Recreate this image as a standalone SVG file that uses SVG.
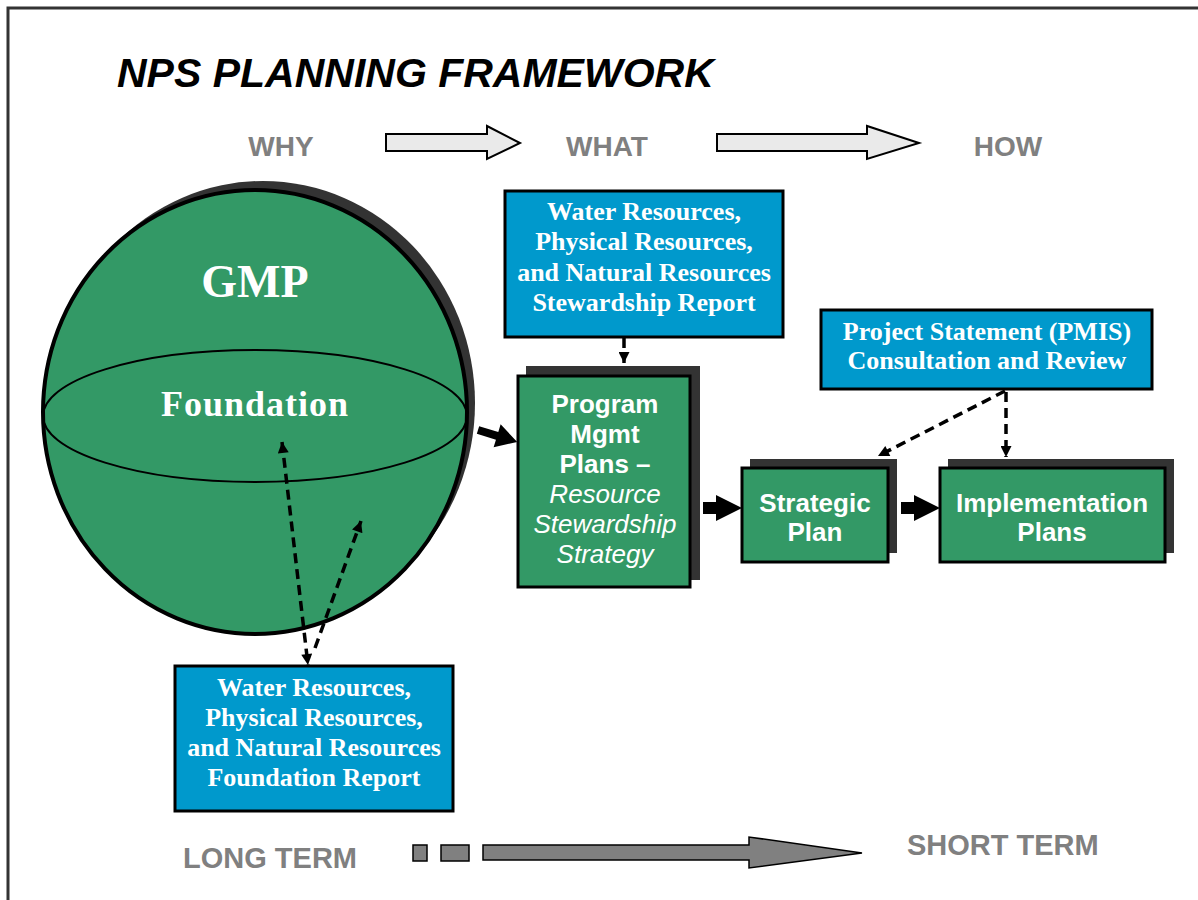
<svg xmlns="http://www.w3.org/2000/svg" width="1198" height="900" viewBox="0 0 1198 900">
<defs>
<style>
.lbl{font-family:"Liberation Sans",Arial,sans-serif;font-weight:bold;fill:#808080;}
.gtx{font-family:"Liberation Sans",Arial,sans-serif;font-weight:bold;fill:#fff;font-size:26px;text-anchor:middle;}
.gi{font-weight:normal;font-style:italic;}
.btx{font-family:"Liberation Serif","Times New Roman",serif;font-weight:bold;fill:#fff;font-size:26px;text-anchor:middle;}
.green{fill:#339966;stroke:#000;stroke-width:3;}
.blue{fill:#0099CC;stroke:#000;stroke-width:3;}
.shadow{fill:#333;}
.dash{fill:none;stroke:#000;stroke-width:3.5;stroke-dasharray:10,6;}
.blk{fill:#000;}
</style>
<marker id="ah" viewBox="0 0 10 10" refX="10" refY="5" markerUnits="userSpaceOnUse" markerWidth="12" markerHeight="11" orient="auto-start-reverse">
<path d="M0,0 L10,5 L0,10 Z" fill="#000"/>
</marker>
</defs>
<rect width="1198" height="900" fill="#fff"/>
<rect x="8" y="8" width="1200" height="900" fill="none" stroke="#333" stroke-width="3"/>

<text x="117" y="87" font-family="Liberation Sans,Arial,sans-serif" font-weight="bold" font-style="italic" font-size="41">NPS PLANNING FRAMEWORK</text>

<g id="headers">
<text class="lbl" x="281" y="156" font-size="28" text-anchor="middle">WHY</text>
<text class="lbl" x="607" y="156" font-size="28" text-anchor="middle">WHAT</text>
<text class="lbl" x="1008" y="156" font-size="28" text-anchor="middle">HOW</text>
<polygon points="386,134 487,134 487,126 520,143 487,159 487,151 386,151" fill="#eaeaea" stroke="#000" stroke-width="2"/>
<polygon points="717,134 867,134 867,126 919,143 867,159 867,151 717,151" fill="#eaeaea" stroke="#000" stroke-width="2"/>
</g>

<g id="gmp">
<ellipse cx="263" cy="403" rx="212" ry="222" class="shadow"/>
<ellipse cx="255" cy="412" rx="212" ry="222" fill="#339966" stroke="#000" stroke-width="4"/>
<ellipse cx="255" cy="416" rx="212" ry="66" fill="none" stroke="#000" stroke-width="2"/>
<text x="255" y="297" font-family="Liberation Serif,Times New Roman,serif" font-weight="bold" font-size="46" fill="#fff" text-anchor="middle">GMP</text>
<text x="255" y="416" font-family="Liberation Serif,Times New Roman,serif" font-weight="bold" font-size="36" letter-spacing="1" fill="#fff" text-anchor="middle">Foundation</text>
</g>

<g id="stewardship-report">
<rect x="505" y="191" width="278" height="146" class="blue"/>
<text class="btx" x="644" y="220">Water Resources,</text>
<text class="btx" x="644" y="250">Physical Resources,</text>
<text class="btx" x="644" y="281">and Natural Resources</text>
<text class="btx" x="644" y="311">Stewardship Report</text>
</g>

<g id="program-mgmt">
<rect x="526" y="366" width="174" height="214" class="shadow"/>
<rect x="518" y="376" width="172" height="211" class="green"/>
<text class="gtx" x="605" y="413">Program</text>
<text class="gtx" x="605" y="443">Mgmt</text>
<text class="gtx" x="605" y="473">Plans –</text>
<text class="gtx gi" x="605" y="503">Resource</text>
<text class="gtx gi" x="605" y="533">Stewardship</text>
<text class="gtx gi" x="605" y="563">Strategy</text>
</g>

<g id="pmis">
<rect x="821" y="310" width="331" height="79" class="blue"/>
<text class="btx" x="987" y="340">Project Statement (PMIS)</text>
<text class="btx" x="987" y="369">Consultation and Review</text>
</g>

<g id="strategic-plan">
<rect x="750" y="459" width="147" height="94" class="shadow"/>
<rect x="742" y="468" width="146" height="94" class="green"/>
<text class="gtx" x="815" y="512">Strategic</text>
<text class="gtx" x="815" y="541">Plan</text>
</g>

<g id="implementation-plans">
<rect x="948" y="459" width="226" height="94" class="shadow"/>
<rect x="940" y="468" width="225" height="94" class="green"/>
<text class="gtx" x="1052" y="512">Implementation</text>
<text class="gtx" x="1052" y="541">Plans</text>
</g>

<g id="foundation-report">
<rect x="175" y="666" width="278" height="145" class="blue"/>
<text class="btx" x="314" y="696">Water Resources,</text>
<text class="btx" x="314" y="726">Physical Resources,</text>
<text class="btx" x="314" y="756">and Natural Resources</text>
<text class="btx" x="314" y="786">Foundation Report</text>
</g>

<g id="connectors">
<polygon class="blk" transform="translate(478,430) rotate(17)" points="0,-4 20,-4 20,-12 41,0 20,12 20,4 0,4"/>
<polygon class="blk" points="703,502 716,502 716,495 742,508 716,521 716,514 703,514"/>
<polygon class="blk" points="901,502 914,502 914,495 940,508 914,521 914,514 901,514"/>
<line class="dash" x1="624" y1="338" x2="624" y2="363" marker-end="url(#ah)"/>
<line class="dash" x1="1005" y1="391" x2="878" y2="456" marker-end="url(#ah)"/>
<line class="dash" x1="1006" y1="392" x2="1006" y2="457" marker-end="url(#ah)"/>
<line class="dash" x1="282" y1="442" x2="308" y2="665" marker-start="url(#ah)" marker-end="url(#ah)"/>
<line class="dash" x1="315" y1="648" x2="361" y2="521" marker-end="url(#ah)"/>
</g>

<g id="timeline">
<text class="lbl" x="183" y="868" font-size="29">LONG TERM</text>
<text class="lbl" x="907" y="855" font-size="29">SHORT TERM</text>
<rect x="413" y="845" width="14" height="16" fill="#808080" stroke="#000" stroke-width="1.5"/>
<rect x="441" y="845" width="28" height="16" fill="#808080" stroke="#000" stroke-width="1.5"/>
<polygon points="483,845 749,845 749,837 862,853 749,868 749,860 483,860" fill="#808080" stroke="#000" stroke-width="1.5"/>
</g>
</svg>
